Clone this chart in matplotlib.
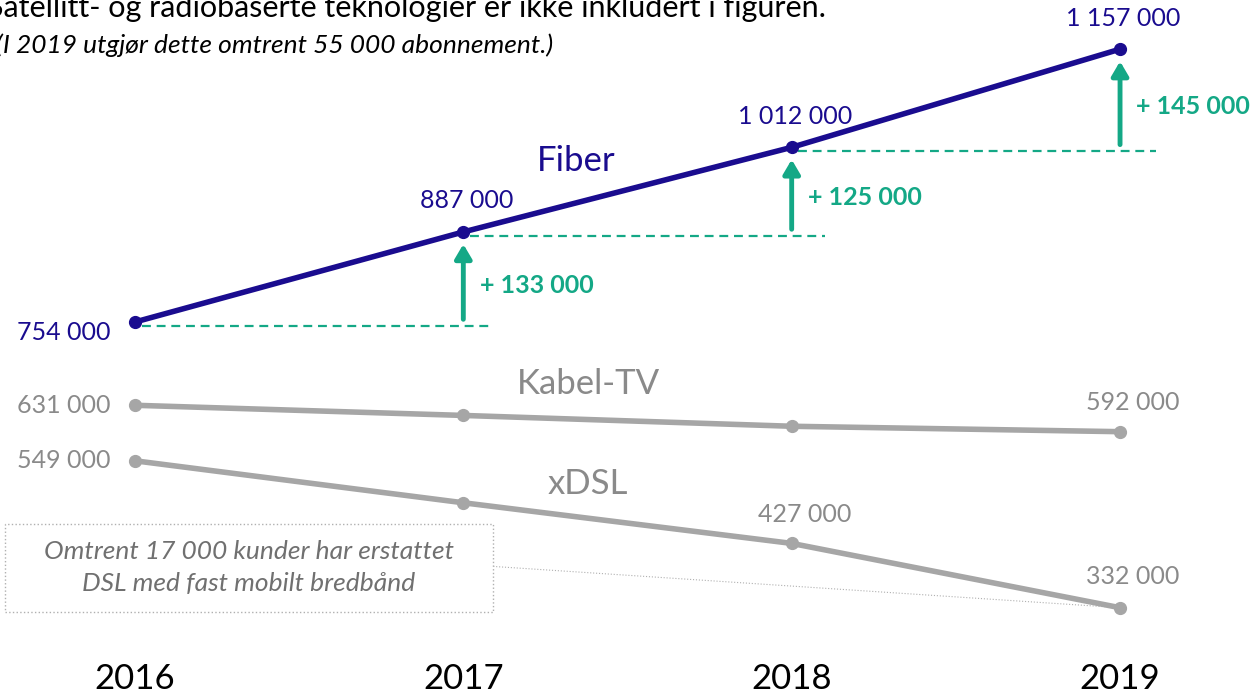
import matplotlib
matplotlib.use("Agg")
from matplotlib import pyplot as plt
from matplotlib.patches import Rectangle

plt.rcParams['font.family'] = ['Lato', 'DejaVu Sans']

years = [2016, 2017, 2018, 2019]
fiber = [754000, 887000, 1012000, 1157000]
kabel = [631000, 616000, 600000, 592000]
xdsl = [549000, 487000, 427000, 332000]

fiber_labels = ['754 000', '887 000', '1 012 000', '1 157 000']
growth_labels = ['+ 133 000', '+ 125 000', '+ 145 000']

navy = '#1a0c8f'
green = '#14a886'
grey_line = '#a6a6a6'
grey_text = '#8a8a8a'

fig = plt.figure(figsize=(12.55, 6.96), dpi=100)
ax = fig.add_axes([0, 0, 1, 1])
ax.set_xlim(2015.589, 2019.411)
ax.set_ylim(201600, 1229600)
ax.axis('off')

# stiplede linjer fra hvert fiberpunkt
for i in range(3):
    ax.plot([years[i] + 0.02, years[i + 1] + 0.09 + 0.01 * i], [fiber[i] - 6000, fiber[i] - 6000],
            color=green, lw=1.6, ls=(0, (4, 2.6)), zorder=1)

# vekstpiler
for i in range(3):
    x = years[i + 1]
    ax.annotate('', xy=(x, fiber[i + 1] - 18000), xytext=(x, fiber[i] + 4000),
                arrowprops=dict(arrowstyle='-|>,head_length=0.85,head_width=0.5',
                                color=green, lw=3.5, shrinkA=0, shrinkB=0), zorder=2)
    ax.text(x + 0.05, (fiber[i] + fiber[i + 1]) / 2 - 12000, growth_labels[i],
            color=green, fontsize=18, fontweight='bold', va='center', ha='left')

ax.plot(years, kabel, color=grey_line, lw=4, marker='o', ms=8.5, zorder=3)
ax.plot(years, xdsl, color=grey_line, lw=4, marker='o', ms=8.5, zorder=3)
ax.plot(years, fiber, color=navy, lw=4, marker='o', ms=8.5, zorder=4)

# verdier
ax.text(years[0] - 0.075, fiber[0] - 15000, fiber_labels[0], color=navy, fontsize=18, ha='right', va='center')
for i in range(1, 4):
    ax.text(years[i] + 0.01, fiber[i] + 46000, fiber_labels[i], color=navy, fontsize=18, ha='center', va='center')

ax.text(years[0] - 0.075, kabel[0], '631 000', color=grey_text, fontsize=18, ha='right', va='center')
ax.text(years[0] - 0.075, xdsl[0], '549 000', color=grey_text, fontsize=18, ha='right', va='center')
ax.text(years[3] + 0.04, kabel[3] + 43000, '592 000', color=grey_text, fontsize=18, ha='center', va='center')
ax.text(years[2] + 0.04, xdsl[2] + 43000, '427 000', color=grey_text, fontsize=18, ha='center', va='center')
ax.text(years[3] + 0.04, xdsl[3] + 46000, '332 000', color=grey_text, fontsize=18, ha='center', va='center')

ax.text(2017.345, 992000, 'Fiber', color=navy, fontsize=25, ha='center', va='center')
ax.text(2017.38, 662000, 'Kabel-TV', color=grey_text, fontsize=25, ha='center', va='center')
ax.text(2017.38, 515000, 'xDSL', color=grey_text, fontsize=25, ha='center', va='center')

# merknad
ax.plot([2017.091, years[3]], [393000, xdsl[3]], color='#b0b0b0', lw=0.8, ls=':', zorder=1)
ax.add_patch(Rectangle((2015.604, 325600), 2017.091 - 2015.604, 455600 - 325600,
                       fc='white', ec='#b0b0b0', ls=':', lw=1, zorder=2))
ax.text(2016.347, 391000, 'Omtrent 17 000 kunder har erstattet\nDSL med fast mobilt bredbånd',
        color='#707070', fontsize=19, style='italic', ha='center', va='center', linespacing=1.45, zorder=3)

for x in years:
    ax.text(x, 226000, str(x), fontsize=25, ha='center', va='center', color='black')

fig.text(0.658, 0.9885, 'Satellitt- og radiobaserte teknologier er ikke inkludert i figuren.',
         fontsize=22, ha='right', va='center', color='black')
fig.text(0.441, 0.935, '(I 2019 utgjør dette omtrent 55 000 abonnement.)',
         fontsize=19, style='italic', ha='right', va='center', color='black')

fig.savefig('out.png', dpi=100)
